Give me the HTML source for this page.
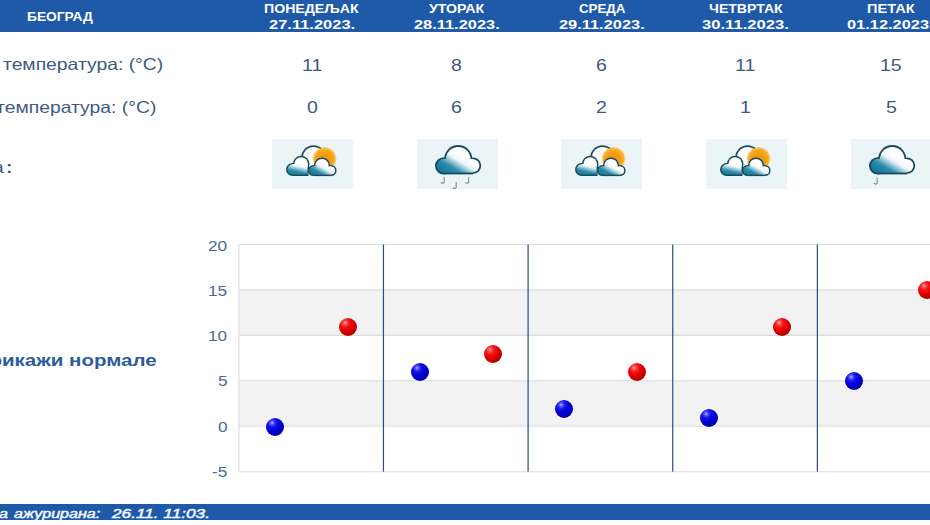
<!DOCTYPE html>
<html><head><meta charset="utf-8">
<style>
html,body{margin:0;padding:0;background:#fff;width:930px;height:525px;overflow:hidden;position:relative;font-family:"Liberation Sans",sans-serif;}
.t{position:absolute;white-space:nowrap;line-height:1;transform-origin:0 0;}
#hdr{position:absolute;left:0;top:0;width:930px;height:32px;background:#1e5aa8;}
.icon{position:absolute;top:139px;width:81px;height:50px;background:#ebf5f8;}
.icon svg{display:block}
#ftr{position:absolute;left:0;top:504px;width:930px;height:16px;background:#1e5aa8;}
.grid{position:absolute;left:239px;width:691px;height:1px;background:#dedede;}
.band{position:absolute;left:239px;width:691px;background:#f1f1f1;}
.vl{position:absolute;top:245px;height:226px;width:1px;background:#2b4d78;}
.dot{position:absolute;width:18px;height:18px;border-radius:50%;}
.b{background:radial-gradient(circle at 34% 27%,#c4c8ff 0,#5a5aff 9%,#1414ec 24%,#0000d4 46%,#0000aa 76%,#000070 100%);}
.r{background:radial-gradient(circle at 34% 27%,#ffc4c4 0,#ff5a5a 9%,#f81414 24%,#e00000 46%,#b00000 76%,#700000 100%);}
</style></head><body>
<svg width="0" height="0" style="position:absolute">
<defs>
<linearGradient id="cgl" gradientUnits="userSpaceOnUse" x1="24" y1="37" x2="27" y2="24">
<stop offset="0" stop-color="#117a98"/><stop offset="0.35" stop-color="#2a8cab"/><stop offset="0.75" stop-color="#eef6f9"/><stop offset="1" stop-color="#ffffff"/>
</linearGradient>
<linearGradient id="cgr" gradientUnits="userSpaceOnUse" x1="43" y1="37" x2="50" y2="24">
<stop offset="0" stop-color="#117a98"/><stop offset="0.35" stop-color="#2a8cab"/><stop offset="0.75" stop-color="#eef6f9"/><stop offset="1" stop-color="#ffffff"/>
</linearGradient>
<radialGradient id="sg" gradientUnits="userSpaceOnUse" cx="52.6" cy="21" r="12">
<stop offset="0.4" stop-color="#f39712"/><stop offset="0.85" stop-color="#f7ab22"/><stop offset="1" stop-color="#fcc850"/>
</radialGradient>
<symbol id="sc" viewBox="0 0 81 50">
<circle cx="41.5" cy="18.5" r="12.2" fill="#1b4a5a"/>
<circle cx="41.5" cy="18.5" r="10.6" fill="#fbfdfe"/>
<circle cx="52.6" cy="19.8" r="10.7" fill="url(#sg)" stroke="#f9b634" stroke-width="2.2" stroke-dasharray="1.0 0.8"/>
<g fill="#1b4a5a">
<circle cx="29.2" cy="25" r="8.3"/><circle cx="20.5" cy="30.5" r="6.5"/><rect x="20.5" y="25" width="16" height="12"/>
</g>
<g fill="url(#cgl)">
<circle cx="29.2" cy="25" r="6.8"/><circle cx="20.5" cy="30.5" r="5"/><rect x="20.5" y="25" width="15" height="10.5"/>
</g>
<g fill="#1b4a5a">
<circle cx="50" cy="26.5" r="8.1"/><circle cx="59" cy="31.5" r="5.6"/><circle cx="41.5" cy="31.5" r="5.6"/><rect x="41.5" y="26" width="17.5" height="11.1"/>
</g>
<g fill="url(#cgr)">
<circle cx="50" cy="26.5" r="6.6"/><circle cx="59" cy="31.5" r="4.1"/><circle cx="41.5" cy="31.5" r="4.1"/><rect x="41.5" y="27.5" width="17.5" height="8.1"/>
</g>
</symbol>
<linearGradient id="rg" gradientUnits="userSpaceOnUse" x1="30" y1="35" x2="42" y2="15">
<stop offset="0" stop-color="#117a98"/><stop offset="0.35" stop-color="#2a8cab"/><stop offset="0.75" stop-color="#eef6f9"/><stop offset="1" stop-color="#ffffff"/>
</linearGradient>
<symbol id="rc" viewBox="0 0 81 50">
<g fill="#1b4a5a">
<circle cx="41.2" cy="20.2" r="14.1"/><circle cx="26.6" cy="26.8" r="8.6"/><circle cx="56" cy="26.6" r="8.2"/><rect x="26.6" y="20" width="29.4" height="15.4"/>
</g>
<g fill="url(#rg)">
<circle cx="41.2" cy="20.2" r="12.3"/><circle cx="26.6" cy="26.8" r="6.8"/><circle cx="56" cy="26.6" r="6.4"/><rect x="26.6" y="20" width="29.4" height="13.6"/>
</g>
</symbol>
<symbol id="drop" viewBox="0 0 6 8">
<path d="M4.2 0.5 V5 Q4.2 6.6 2.6 6.6 Q1.6 6.6 1.2 5.8" fill="none" stroke="#80888c" stroke-width="1.1" stroke-linecap="round"/>
</symbol>
</defs></svg>
<div id="hdr"></div>
<div class="icon" style="left:272px;"><svg width="81" height="50"><use href="#sc"/></svg></div>
<div class="icon" style="left:417px;"><svg width="81" height="50"><use href="#rc"/><use href="#drop" x="23" y="37.7" width="6" height="8"/><use href="#drop" x="35" y="42.9" width="6" height="8"/><use href="#drop" x="47.5" y="37.7" width="6" height="8"/></svg></div>
<div class="icon" style="left:561px;"><svg width="81" height="50"><use href="#sc"/></svg></div>
<div class="icon" style="left:706px;"><svg width="81" height="50"><use href="#sc"/></svg></div>
<div class="icon" style="left:851px;"><svg width="81" height="50"><use href="#rc"/><use href="#drop" x="22" y="38.5" width="6" height="8"/></svg></div>
<svg style="position:absolute;left:0;top:0" width="930" height="525">
<rect x="238.9" y="289.9" width="700" height="45.5" fill="#f2f2f2"/>
<rect x="238.9" y="380.8" width="700" height="45.5" fill="#f2f2f2"/>
<g stroke="#dcdcdc" stroke-width="1.1">
<line x1="238.4" y1="244.5" x2="930" y2="244.5"/>
<line x1="238.9" y1="289.9" x2="930" y2="289.9"/>
<line x1="238.9" y1="335.4" x2="930" y2="335.4"/>
<line x1="238.9" y1="380.8" x2="930" y2="380.8"/>
<line x1="238.9" y1="426.3" x2="930" y2="426.3"/>
<line x1="238.4" y1="471.7" x2="930" y2="471.7"/>
<line x1="238.9" y1="244.5" x2="238.9" y2="472.2"/>
</g>
<g stroke="#2b4d78" stroke-width="1.2">
<line x1="383.45" y1="244.5" x2="383.45" y2="471.7"/>
<line x1="528.1" y1="244.5" x2="528.1" y2="471.7"/>
<line x1="672.75" y1="244.5" x2="672.75" y2="471.7"/>
<line x1="817.4" y1="244.5" x2="817.4" y2="471.7"/>
</g>
</svg>
<div class="dot b" style="left:266.06px;top:417.80px"></div>
<div class="dot r" style="left:339.19px;top:317.83px"></div>
<div class="dot b" style="left:410.71px;top:363.27px"></div>
<div class="dot r" style="left:483.84px;top:345.10px"></div>
<div class="dot b" style="left:555.36px;top:399.62px"></div>
<div class="dot r" style="left:628.49px;top:363.27px"></div>
<div class="dot b" style="left:700.01px;top:408.71px"></div>
<div class="dot r" style="left:773.14px;top:317.83px"></div>
<div class="dot b" style="left:844.66px;top:372.36px"></div>
<div class="dot r" style="left:917.79px;top:281.48px"></div>
<div id="ftr"></div>
<div class="t" style="left:27.44px;top:10.30px;font-size:13px;font-weight:bold;color:#fff;transform:scaleX(1.0574)">БЕОГРАД</div>
<div class="t" style="left:264.41px;top:1.80px;font-size:13px;font-weight:bold;color:#fff;transform:scaleX(1.0872)">ПОНЕДЕЉАК</div>
<div class="t" style="left:428.50px;top:1.80px;font-size:13px;font-weight:bold;color:#fff;transform:scaleX(1.0882)">УТОРАК</div>
<div class="t" style="left:578.50px;top:1.80px;font-size:13px;font-weight:bold;color:#fff;transform:scaleX(1.0222)">СРЕДА</div>
<div class="t" style="left:708.92px;top:1.80px;font-size:13px;font-weight:bold;color:#fff;transform:scaleX(1.0821)">ЧЕТВРТАК</div>
<div class="t" style="left:866.88px;top:1.80px;font-size:13px;font-weight:bold;color:#fff;transform:scaleX(1.1220)">ПЕТАК</div>
<div class="t" style="left:269.00px;top:18.00px;font-size:13.5px;font-weight:bold;color:#fff;transform:scaleX(1.2214)">27.11.2023.</div>
<div class="t" style="left:414.00px;top:18.00px;font-size:13.5px;font-weight:bold;color:#fff;transform:scaleX(1.2143)">28.11.2023.</div>
<div class="t" style="left:558.50px;top:18.00px;font-size:13.5px;font-weight:bold;color:#fff;transform:scaleX(1.2143)">29.11.2023.</div>
<div class="t" style="left:702.27px;top:18.00px;font-size:13.5px;font-weight:bold;color:#fff;transform:scaleX(1.2319)">30.11.2023.</div>
<div class="t" style="left:847.09px;top:18.00px;font-size:13.5px;font-weight:bold;color:#fff;transform:scaleX(1.2143)">01.12.2023.</div>
<div class="t" style="left:3.00px;top:56.40px;font-size:16.5px;color:#3e5a82;transform:scaleX(1.1706)">температура: (°C)</div>
<div class="t" style="left:-4.40px;top:98.90px;font-size:16.5px;color:#3e5a82;transform:scaleX(1.1721)">температура: (°C)</div>
<div class="t" style="left:-6.84px;top:158.50px;font-size:16.5px;color:#3e5a82;transform:scaleX(1.1706)">а</div>
<div class="t" style="left:6.32px;top:158.50px;font-size:16.5px;color:#3e5a82;font-weight:bold;transform:scaleX(1.1706)">:</div>
<div class="t" style="left:301.98px;top:57.80px;font-size:16px;color:#3e5a82;transform:scaleX(1.2200)">11</div>
<div class="t" style="left:451.01px;top:57.80px;font-size:16px;color:#3e5a82;transform:scaleX(1.2200)">8</div>
<div class="t" style="left:595.81px;top:57.80px;font-size:16px;color:#3e5a82;transform:scaleX(1.2200)">6</div>
<div class="t" style="left:734.83px;top:57.80px;font-size:16px;color:#3e5a82;transform:scaleX(1.2200)">11</div>
<div class="t" style="left:880.02px;top:57.80px;font-size:16px;color:#3e5a82;transform:scaleX(1.2200)">15</div>
<div class="t" style="left:306.91px;top:99.90px;font-size:16px;color:#3e5a82;transform:scaleX(1.2200)">0</div>
<div class="t" style="left:451.01px;top:99.90px;font-size:16px;color:#3e5a82;transform:scaleX(1.2200)">6</div>
<div class="t" style="left:595.81px;top:99.90px;font-size:16px;color:#3e5a82;transform:scaleX(1.2200)">2</div>
<div class="t" style="left:739.71px;top:99.90px;font-size:16px;color:#3e5a82;transform:scaleX(1.2200)">1</div>
<div class="t" style="left:885.51px;top:99.90px;font-size:16px;color:#3e5a82;transform:scaleX(1.2200)">5</div>
<div class="t" style="left:208.35px;top:237.50px;font-size:15px;color:#4a6a90;transform:scaleX(1.1467)">20</div>
<div class="t" style="left:208.35px;top:282.50px;font-size:15px;color:#4a6a90;transform:scaleX(1.1467)">15</div>
<div class="t" style="left:208.35px;top:327.70px;font-size:15px;color:#4a6a90;transform:scaleX(1.1467)">10</div>
<div class="t" style="left:217.53px;top:373.00px;font-size:15px;color:#4a6a90;transform:scaleX(1.1467)">5</div>
<div class="t" style="left:217.53px;top:418.50px;font-size:15px;color:#4a6a90;transform:scaleX(1.1467)">0</div>
<div class="t" style="left:211.79px;top:463.70px;font-size:15px;color:#4a6a90;transform:scaleX(1.1467)">-5</div>
<div class="t" style="left:-22.94px;top:352.00px;font-size:17px;font-weight:bold;color:#2c5d9b;transform:scaleX(1.2063)">прикажи нормале</div>
<div class="t" style="left:13.80px;top:507.80px;font-size:12.5px;font-style:italic;color:#f4f8ff;-webkit-text-stroke:0.45px currentColor;transform:scaleX(1.2866)">ажурирана:</div>
<div class="t" style="left:-1.01px;top:507.80px;font-size:12.5px;font-style:italic;color:#f4f8ff;-webkit-text-stroke:0.45px currentColor;transform:scaleX(1.2866)">а</div>
<div class="t" style="left:111.80px;top:507.70px;font-size:12.5px;font-style:italic;color:#f4f8ff;-webkit-text-stroke:0.45px currentColor;transform:scaleX(1.3771)">26.11. 11:03.</div>
</body></html>
